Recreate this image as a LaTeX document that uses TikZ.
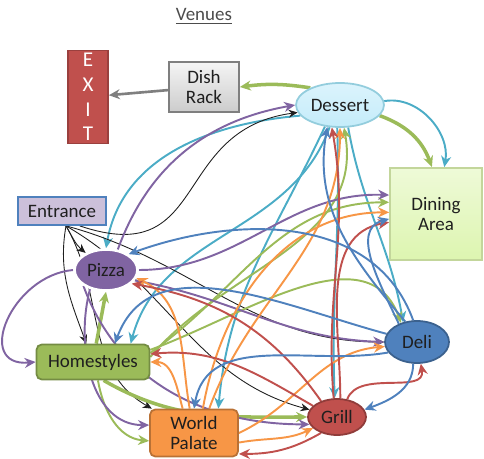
\documentclass[tikz,border=0pt]{standalone}
\usepackage{fontspec}
\setmainfont{Carlito}
\usepackage{tikz}
\usetikzlibrary{arrows.meta,shapes.geometric,backgrounds}
\definecolor{ink}{HTML}{1F1F1F}
\definecolor{pizzac}{HTML}{8064A2}
\definecolor{homec}{HTML}{9BBB59}
\definecolor{worldc}{HTML}{F79646}
\definecolor{grillc}{HTML}{C0504D}
\definecolor{delic}{HTML}{4F81BD}
\definecolor{tealc}{HTML}{4BACC6}
\definecolor{greyc}{HTML}{7F7F7F}
\definecolor{entc}{HTML}{CCC0DA}
\definecolor{dessc}{HTML}{C4ECFA}
\definecolor{dinec}{HTML}{DDF5B0}
\tikzset{
  venue/.style={draw,line width=1pt,font=\fontsize{10.8}{11.5}\selectfont,text=ink,inner sep=1pt,align=center},
  boxv/.style={venue,rounded corners=3pt},
  ovalv/.style={venue,ellipse},
  flow/.style={-{Stealth[length=2.2mm,width=2mm]},line width=1.1pt,draw=#1},
  fat/.style={flow=#1,line width=2pt},
  entry/.style={-{Stealth[length=1.8mm,width=1.6mm]},line width=0.5pt,draw=ink},
}
\begin{document}
\begin{tikzpicture}[x=0.02cm,y=0.02cm]
  \useasboundingbox (0,0) rectangle (484,-459);
  \node[font=\fontsize{10.8}{11.5}\selectfont,text=ink!80] (title) at (204,-16) {\underline{Venues}};
  % venues
  \node[venue,draw=grillc!80!black,fill=grillc,text=white,font=\fontsize{12}{13}\selectfont,minimum width=0.8cm,minimum height=1.86cm] (exit) at (88,-97) {E\\[1pt]X\\[1pt]I\\[1pt]T};
  \node[venue,draw=greyc,top color=gray!8,bottom color=gray!40,minimum width=1.4cm,minimum height=1cm] (dish) at (204,-87) {Dish\\Rack};
  \node[ovalv,draw=tealc!60,top color=dessc!60,bottom color=dessc,minimum width=1.76cm,minimum height=0.88cm] (dessert) at (340,-105) {Dessert};
  \node[venue,draw=homec!60,top color=dinec!50,bottom color=dinec,minimum width=1.84cm,minimum height=1.84cm] (dining) at (436,-214) {Dining\\Area};
  \node[venue,draw=delic,fill=entc,minimum width=1.76cm,minimum height=0.56cm] (entrance) at (62,-211) {Entrance};
  \node[ovalv,draw=white,line width=1.5pt,fill=pizzac,minimum width=1.26cm,minimum height=0.82cm] (pizza) at (106,-270) {Pizza};
  \node[boxv,draw=homec!75!black,fill=homec,minimum width=2.26cm,minimum height=0.7cm] (home) at (93,-362) {Homestyles};
  \node[ovalv,draw=delic!75!black,fill=delic,minimum width=1.28cm,minimum height=0.84cm] (deli) at (417,-342) {Deli};
  \node[ovalv,draw=grillc!75!black,fill=grillc,minimum width=1.16cm,minimum height=0.72cm] (grill) at (337,-417) {Grill};
  \node[boxv,draw=worldc!75!black,fill=worldc,minimum width=1.76cm,minimum height=0.94cm] (world) at (194,-433) {World\\Palate};

  \begin{scope}[on background layer]
    % exit route
    \draw[flow=greyc,line width=1.5pt] (dish) -- (exit);
    \draw[fat=homec] (dessert.150) to[bend right=8] (dish.east);
    \draw[fat=homec] (dessert.-15) to[out=-20,in=110] (dining.95);
    \draw[flow=tealc] (dessert.5) to[out=10,in=80] (dining.80);
    % dessert
    \draw[flow=tealc] (dessert.195) to[out=185,in=80] (pizza.north);
    \draw[flow=tealc] (dessert.245) to[out=250,in=75] (home.26);
    \draw[flow=tealc] (dessert.235) to[out=245,in=85] (world.45);
    \draw[flow=tealc] (dessert.263) to[out=-88,in=92] (grill.97);
    \draw[flow=tealc] (dessert.290) to[out=-80,in=100] (deli.125);
    % entrance
    \foreach \t/\o/\i in {pizza/-60/140, home/-100/110, world/-60/150, grill/-30/165, deli/-15/180}
      \draw[entry] (entrance.-75) to[out=\o,in=\i] (\t);
    \draw[entry] (entrance.-40) .. controls (210,-270) and (170,-130) .. (dessert.190);
    % homestyles
    \draw[fat=homec] (home.80) -- (pizza.south);
    \draw[flow=homec] (home.-75) to[out=-80,in=175] (world.190);
    \draw[fat=homec] (home.-60) to[out=-30,in=180] (grill.west);
    \draw[flow=homec] (home.12) to[out=20,in=110] (deli.130);
    \draw[flow=homec] (home.9) to[out=35,in=180] (dining.166);
    \draw[flow=homec] (home.5) to[out=50,in=-80] (dessert.-80);
    % pizza
    \draw[flow=pizzac] (pizza.60) to[out=70,in=190] (dessert.west);
    \draw[flow=pizzac] (pizza.east) to[out=0,in=178] (dining.158);
    \draw[flow=pizzac] (pizza.west) to[out=185,in=185,looseness=1.6] (home.west);
    \draw[flow=pizzac] (pizza.230) to[out=255,in=180] (world.170);
    \draw[flow=pizzac] (pizza.-20) to[out=-10,in=178] (deli.west);
    \draw[flow=pizzac] (pizza.215) to[out=-70,in=180] (grill.195);
    % world palate
    \draw[flow=worldc] (world.100) to[out=100,in=-25] (pizza.-15);
    \draw[flow=worldc] (world.115) to[out=105,in=0] (home.east);
    \draw[flow=worldc] (world.70) to[out=80,in=180] (dining.178);
    \draw[flow=worldc] (world.58) to[out=70,in=-90] (dessert.-90);
    \draw[flow=worldc] (world.east) to[out=25,in=185] (deli.188);
    \draw[flow=worldc] (world.-12) to[out=10,in=205] (grill.205);
    % grill
    \draw[flow=grillc] (grill.135) to[out=125,in=-10] (pizza.-28);
    \draw[flow=grillc] (grill.155) to[out=150,in=5] (home.8);
    \draw[flow=grillc] (grill.225) to[out=210,in=0] (world.-25);
    \draw[flow=grillc] (grill.100) to[out=95,in=-80] (dessert.250);
    \draw[flow=grillc] (grill.60) to[out=70,in=-80] (deli.-80);
    \draw[flow=grillc] (grill.80) to[out=90,in=190] (dining.190);
    % deli
    \draw[flow=delic] (deli.100) to[out=110,in=20] (pizza.35);
    \draw[flow=delic] (deli.165) to[out=165,in=70] (home.40);
    \draw[flow=delic] (deli.200) to[out=190,in=80] (world.north);
    \draw[flow=delic] (deli.-100) to[out=-90,in=20] (grill.15);
    \draw[flow=delic] (deli.120) to[out=130,in=-100] (dessert.240);
    \draw[flow=delic] (deli.135) to[out=115,in=195] (dining.186);
  \end{scope}
\end{tikzpicture}
\end{document}
